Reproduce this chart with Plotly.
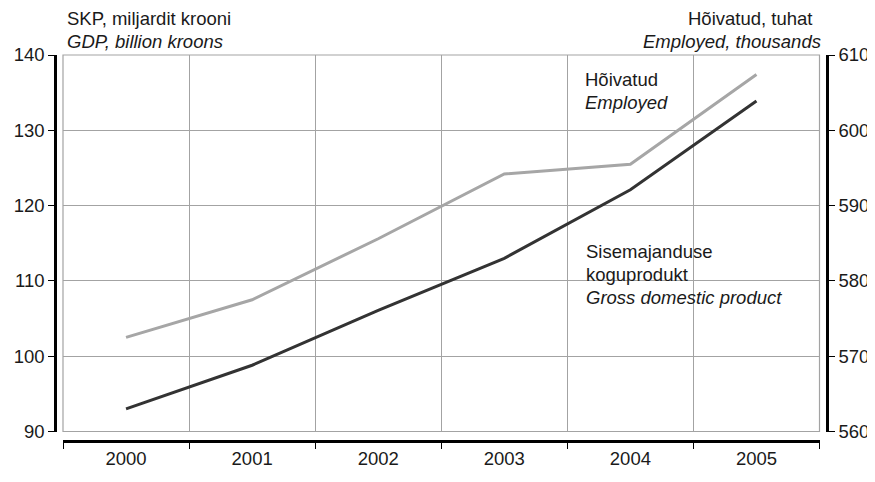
import plotly.graph_objects as go

years = ["2000", "2001", "2002", "2003", "2004", "2005"]
gdp = [93.0, 98.8, 106.1, 113.0, 122.1, 133.9]
employed = [572.5, 577.5, 585.6, 594.2, 595.5, 607.4]
left_ticks = [90, 100, 110, 120, 130, 140]
right_ticks = [560, 570, 580, 590, 600, 610]

# the page body adds an 8px margin, so the figure is drawn 8px in from the corner
OFF = 8
W, H = 875 - OFF, 482 - OFF
ML, MR, MT, MB = 55 - OFF, W - (827 - OFF), 55 - OFF, H - (441 - OFF)
PW = W - ML - MR
PH = H - MT - MB


def px(x):
    return (x - OFF - ML) / PW


def py(y):
    return (H - MB - (y - OFF)) / PH


FONT = "Liberation Sans, Arial, Helvetica, sans-serif"
FS = 18.5
GRID = "#a3a3a3"

fig = go.Figure()
fig.add_trace(go.Scatter(x=years, y=employed, yaxis="y2", mode="lines",
                         line=dict(color="#a6a6a6", width=3), showlegend=False))
fig.add_trace(go.Scatter(x=years, y=gdp, yaxis="y", mode="lines",
                         line=dict(color="#333333", width=3), showlegend=False))

fig.update_layout(
    width=W, height=H,
    margin=dict(l=ML, r=MR, t=MT, b=MB, autoexpand=False),
    paper_bgcolor="white", plot_bgcolor="white",
    font=dict(family=FONT, size=FS, color="#1a1a1a"),
    xaxis=dict(
        type="category", domain=[px(63), px(819.5)], anchor="free", position=0,
        tickson="boundaries", showgrid=True, gridcolor=GRID, gridwidth=1,
        showline=True, linecolor="black", linewidth=2.5,
        ticks="outside", ticklen=6, tickcolor="black", tickwidth=1.2,
        range=[-0.5, 5.5], fixedrange=True, zeroline=False, automargin=False,
    ),
    yaxis=dict(
        domain=[py(431.5), 1], anchor="free", position=0, side="left",
        range=[90, 140], tickvals=left_ticks,
        showgrid=True, gridcolor=GRID, gridwidth=1,
        showline=True, linecolor="black", linewidth=2.5,
        ticks="outside", ticklen=6, tickcolor="black", tickwidth=1.2,
        zeroline=False, automargin=False,
    ),
    yaxis2=dict(
        overlaying="y", anchor="free", position=1, side="right",
        range=[560, 610], tickvals=right_ticks, showgrid=False,
        showline=True, linecolor="black", linewidth=2.5,
        ticks="outside", ticklen=6, tickcolor="black", tickwidth=1.2,
        zeroline=False, automargin=False,
    ),
)

fig.add_shape(type="rect", xref="x domain", yref="y domain", x0=0, x1=1, y0=0, y1=1,
              line=dict(color=GRID, width=1.2), layer="below")

notes = [
    ("SKP, miljardit krooni", 66, 19, "left", False),
    ("GDP, billion kroons", 66, 41, "left", True),
    ("Hõivatud, tuhat", 813, 19, "right", False),
    ("Employed, thousands", 822, 41, "right", True),
    ("Hõivatud", 584, 79, "left", False),
    ("Employed", 584, 102, "left", True),
    ("Sisemajanduse", 585, 251, "left", False),
    ("koguprodukt", 585, 274, "left", False),
    ("Gross domestic product", 585, 297, "left", True),
]
for txt, x, y, anc, it in notes:
    fig.add_annotation(text=f"<i>{txt}</i>" if it else txt, xref="paper", yref="paper",
                       x=px(x), y=py(y), xanchor=anc, yanchor="middle", borderpad=0,
                       showarrow=False, font=dict(size=FS, family=FONT, color="#1a1a1a"))

fig.write_html("out.html")
